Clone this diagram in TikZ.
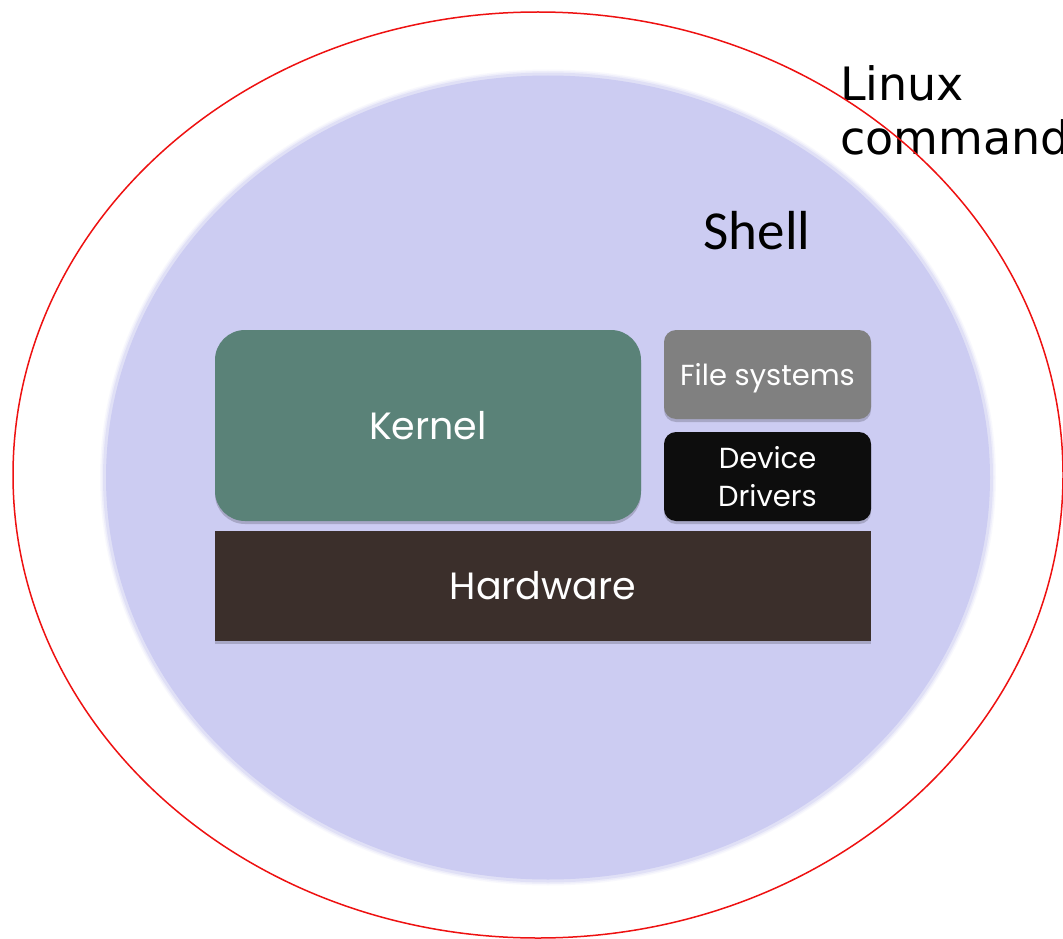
\documentclass[tikz,border=0pt]{standalone}
\usepackage{fontspec}
\setmainfont{Poppins}
\newfontfamily\boxfont{Poppins}
\newfontfamily\shellfont{Carlito}
\newfontfamily\cmdfont{DejaVu Sans}
\usetikzlibrary{shadows}
\definecolor{shellfill}{HTML}{CCCCF2}
\definecolor{kernelc}{HTML}{5A8278}
\definecolor{filec}{HTML}{808080}
\definecolor{devc}{HTML}{0D0D0D}
\definecolor{hwc}{HTML}{3B2F2B}
\definecolor{ringred}{HTML}{EE1111}
\tikzset{
  layerbox/.style={rectangle, text=white, inner sep=0pt, align=center,
    font=\boxfont,
    drop shadow={shadow xshift=0pt, shadow yshift=-3pt, opacity=0.18, fill=black}},
}
\begin{document}
\begin{tikzpicture}[x=1pt,y=-1pt]
\useasboundingbox (0,0) rectangle (1063,939);
\fill[white] (0,0) rectangle (1063,939);
% shell disc with soft edge
\foreach \w/\o in {10/0.12,7/0.22,4/0.4}{
  \draw[shellfill, line width=\w pt, opacity=\o] (548,477.5) ellipse [x radius=443pt, y radius=403pt];
}
\fill[shellfill] (548,477.5) ellipse [x radius=442pt, y radius=402pt];
% boxes
\node[layerbox, fill=kernelc, rounded corners=30pt, minimum width=426pt, minimum height=191pt,
  font=\boxfont\fontsize{38}{44}\selectfont] (kernel) at (428,425.5) {Kernel};
\node[layerbox, fill=filec, rounded corners=12pt, minimum width=207pt, minimum height=89pt,
  text depth=0pt, font=\boxfont\fontsize{29}{36}\selectfont] (fs) at (767.5,374.5) {File systems};
\node[layerbox, fill=devc, rounded corners=12pt, minimum width=207pt, minimum height=89pt,
  font=\boxfont\fontsize{29}{38}\selectfont] (dev) at (767.5,476.5) {Device\\Drivers};
\node[layerbox, fill=hwc, minimum width=656pt, minimum height=110pt,
  font=\boxfont\fontsize{38}{44}\selectfont] (hw) at (543,586) {Hardware};
% labels
\node[anchor=base, inner sep=0pt, font=\shellfont\fontsize{55}{60}\selectfont] (shell) at (757,249) {Shell};
\node[anchor=north west, inner sep=0pt, align=left, font=\cmdfont\fontsize{46}{54}\selectfont] (cmd) at (840,65) {Linux\\command};
% outer red ring
\draw[ringred, line width=1.5pt] (538,475) ellipse [x radius=525pt, y radius=463pt];
\end{tikzpicture}
\end{document}
